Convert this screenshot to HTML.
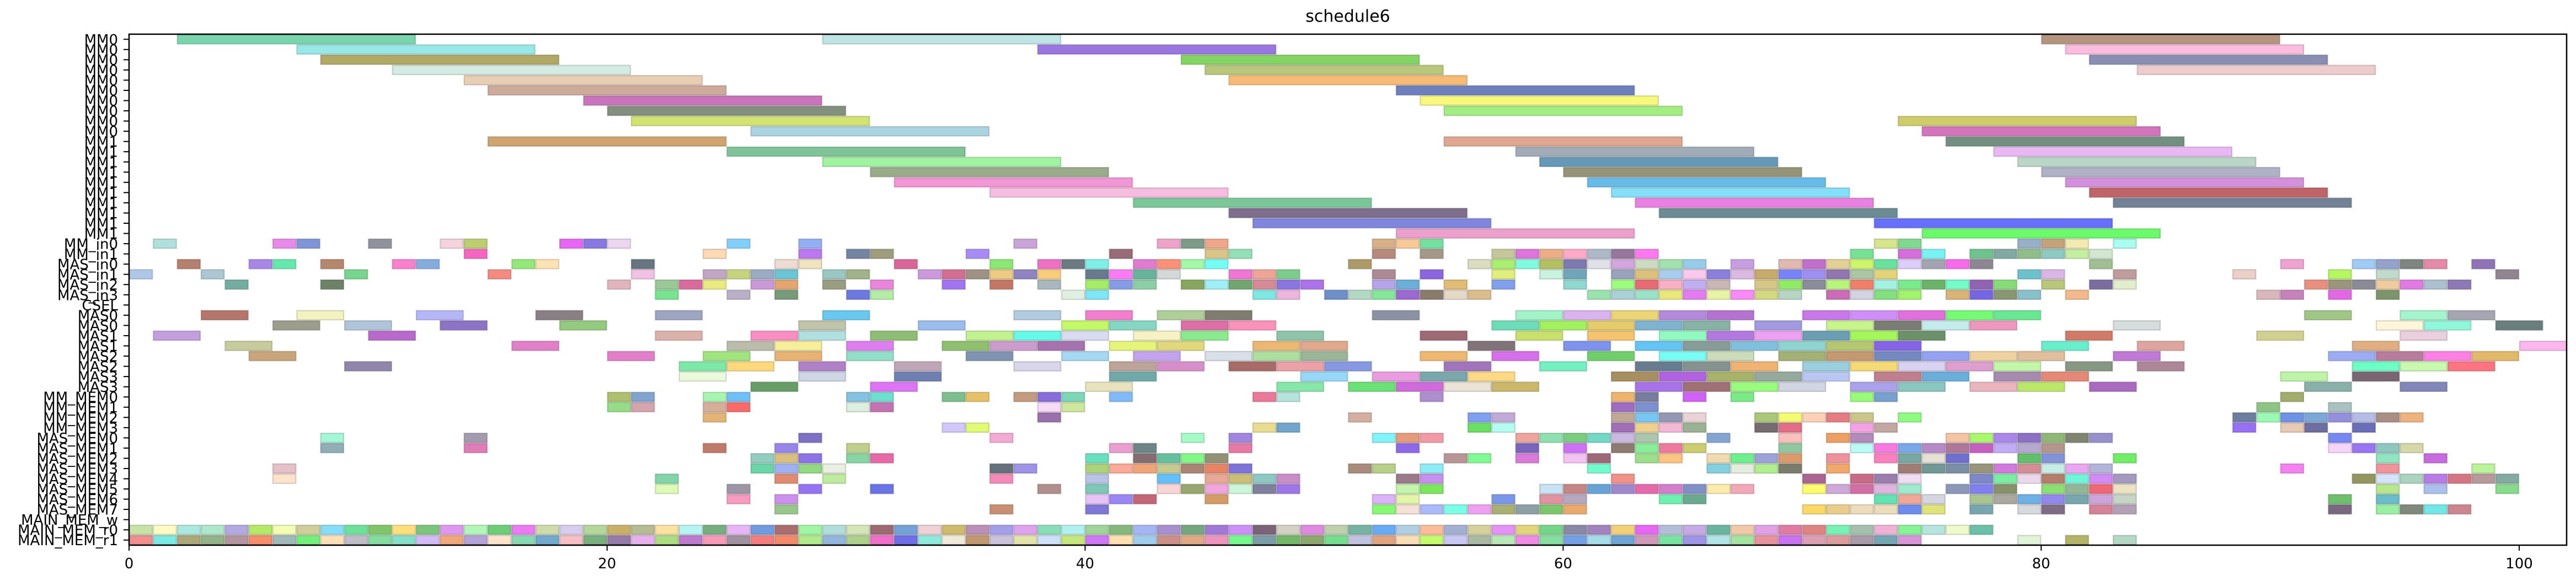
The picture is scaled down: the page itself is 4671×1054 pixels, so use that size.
<!DOCTYPE html>
<html><head><meta charset="utf-8"><style>
html,body{margin:0;padding:0;background:#fff;width:4671px;height:1054px;overflow:hidden}
svg{display:block}
text{font-family:"DejaVu Sans","Liberation Sans",sans-serif;fill:#000}
</style></head><body>
<svg id="s" width="4671" height="1054" xmlns="http://www.w3.org/2000/svg">
<rect x="0" y="0" width="4671" height="1054" fill="#fff"/>
<g id="bars"></g>
<rect x="234" y="62" width="4420" height="927" fill="none" stroke="#000" stroke-width="2.5"/>
<text x="2444" y="30" font-size="30" text-anchor="middle" dominant-baseline="central">schedule6</text>
<g id="yl" font-size="26" text-anchor="end"></g>
<g id="xl" font-size="26" text-anchor="middle"></g>
</svg>
<script>
var X0=234,UX=43.34,Y0=62,RH=18.54;
var NS="http://www.w3.org/2000/svg";
var g=document.getElementById('bars');
function dark(h){var n=parseInt(h,16),r=(n>>16)&255,gg=(n>>8)&255,b=n&255;r=Math.round(r*.75);gg=Math.round(gg*.75);b=Math.round(b*.75);return 'rgb('+r+','+gg+','+b+')';}
function bar(r,s,l,c){var e=document.createElementNS(NS,'rect');e.setAttribute('x',(X0+UX*s+1).toFixed(1));e.setAttribute('y',(Y0+RH*r+1).toFixed(1));e.setAttribute('width',(UX*l-2).toFixed(1));e.setAttribute('height',(RH-2).toFixed(1));e.setAttribute('fill','#'+c);e.setAttribute('stroke',dark(c));e.setAttribute('stroke-opacity','0.55');e.setAttribute('stroke-width','2.2');g.appendChild(e);}
function L(r,len,str){str.trim().split(/\s+/).forEach(function(t){var p=t.split(':');bar(r,+p[0],len,p[1]);});}
function SEQ(r,start,str){str.trim().split(/\s+/).forEach(function(c,i){bar(r,start+i,1,c);});}
var big=[
[0,"2:79d6ac 29:bfe4e4 80:b59580"],[1,"7:98e8e8 38:9976e0 81:fbbce0"],[2,"8:b1a866 44:84d464 82:8a8eb2"],
[3,"11:d3ebe3 45:b8c77a 84:eecbcc"],[4,"14:e8cfb3 46:f7bb75"],[5,"15:cdaa9a 53:6e7fbd"],[6,"19:c974bd 54:f8f87c"],
[7,"20:84907e 55:a2ee82"],[8,"21:d2e372 74:cfcc6a"],[9,"26:aad4e2 75:d374bd"],[10,"15:d0a46e 55:e0a690 76:738f82"],
[11,"25:7fc399 58:a2acb8 78:e9b8f4"],[12,"29:a0f3a0 59:6699b8 79:bad6c6"],[13,"31:9aab8c 60:969478 80:afb1c6"],
[14,"32:f396d6 61:66bbe9 81:d490dc"],[15,"36:f6bde0 62:84dffa 82:c06468"],[16,"42:7ac79a 63:ea80e2 83:738296"],
[17,"46:7f6e8c 64:6a8c92"],[18,"47:8085de 73:6670fa"],[19,"53:eda0cc 75:6afa6a"]];
big.forEach(function(a){L(a[0],10,a[1]);});
var u=[
[20,"1:b0e0dc 6:e88ae8 7:7f95d6 10:8f939b 13:f4d3df 14:bccf6e 18:e766f5 19:8878e0 20:ebd7f0 25:82cffa 28:92aef5 37:caa3d9 43:eda3ca 44:7d9c88 45:f0a789 52:d8b088 53:f7c997 54:73e0a0 73:d6e58c 74:7fd98f 79:97b0c8 80:c4a27c 81:f5e9b2 83:a8fcf0"],
[21,"14:f665c0 24:fdd9b5 28:bb78f0 30:7584a2 31:9e9e7e 35:a88cf5 41:976b78 45:dac487 46:93dfb7 52:b88a7d 54:a69888 57:c5c79a 58:de74dc 59:ecae87 60:fdaac9 61:adb9c9 62:95789b 63:ff78f0 72:78e294 74:d66fdb 75:78f3f2 77:6ec38e 78:81a9a2 79:8fbe8a 80:8dcac2 81:c6eea0 82:d2e6d0"],
[22,"2:b5806d 5:a987e8 6:64e8ac 8:b5876d 11:f980cf 12:84acdf 16:93e878 17:fde3b3 21:66757f 27:eedcd2 28:efe3c0 32:da6699 36:8ae873 38:ef70c5 39:6c7a82 40:7ff0e8 42:e07bd0 43:fd9077 44:a3f9a6 45:74fff5 51:ad9a68 56:dcdcc0 57:a9f06e 58:80fbe0 59:b4c061 60:7d7ab0 61:e0e0e8 62:d4a5df 63:ccdcc3 64:a3e1ae 65:95cde9 67:c89ee0 69:e2b9b0 70:c16fca 71:e2d096 72:ccf56a 73:69e2a0 74:dccdf9 75:a2a4b0 76:f76bea 77:8f8693 82:a0c094 90:eea3d2 93:a0cbf5 94:95a2cc 95:7f8680 96:e68aaa 98:8f73b6"],
[23,"0:b0c8e8 3:adc6d3 9:77d68e 15:f48a80 21:f2c2e5 24:c1a6c5 25:c7d47e 26:9aabc4 27:6ac5d5 29:9bc7c2 30:a0b38a 33:cc99dc 34:d36e91 35:9d9284 36:edcb81 37:8f83c0 38:f7cd79 40:677a8e 41:ff7af5 42:67b39b 43:d4d8d8 46:ef76d2 47:efa596 48:7ccd8d 52:ac8995 54:8c65e0 57:e0ef7c 59:c9f3e0 60:6fa6ba 62:99a3bc 63:dcc17a 64:a9cdee 65:fcc8ee 66:8a7fdc 67:dbb9e0 68:c7ab6c 69:7a82fa 70:9e90f2 71:9276b0 72:abc5a5 73:e3d47a 79:6dc1cd 80:dab6e6 83:c09d9c 88:ebcfc8 92:b5f761 94:c0dacc 99:908590"],
[24,"4:73ada0 8:6d8268 20:e2b4be 22:9ac997 23:d96b9c 24:e9ea80 26:c99ad7 27:e4a56f 29:999d81 31:e986db 34:a374f2 36:c57766 38:a9b8bc 40:a3ee65 41:859ce6 42:8dcea7 44:87a65f 45:a1eff6 46:73a66e 47:d58a96 48:8a76e0 49:ab72e9 52:b5a4e9 53:6baed8 55:e2bc74 57:829fee 60:90d8cf 62:9cfc7e 63:e86b73 64:f9afc4 65:c2aff1 66:cbb6b6 68:d8c688 69:91eb67 70:8a8d98 71:b8f57c 72:f07f69 73:a4f2e2 74:7aeb8c 75:6cb36a 76:73fbc8 77:9064b2 78:88dc78 80:bac67a 82:7b6e9e 83:e2edce 91:e98f80 92:9c957e 93:8a8b96 94:efcc9e 95:e17ae3 96:adc0d0 97:8e78b6"],
[25,"22:77e48f 25:b9b0c7 27:779a7b 30:6d79e2 31:b4eba7 39:dff0e3 40:7fe6f6 47:7de8e3 48:edb4dc 50:6e8fc9 51:b3d9c5 52:84e79a 53:9c68d2 54:8a7b6c 55:e5dac7 56:dbbc8d 61:9ae3b1 62:abd0d5 63:9ae2c7 64:e8e87a 65:e57bf3 66:e8f3a6 67:f98af7 68:d3d980 69:b7d5c2 71:cc6bb8 72:d2d4e2 73:83e07f 74:a0f36b 76:dbb377 77:7766e4 78:8a9672 79:88c0cb 81:f3b98c 89:dab7bd 90:c882bb 92:e468e6 94:7e956c"],
[35,"20:afc16c 21:82a5d0 24:a6f5b1 25:6ec0f7 30:84c1e2 31:6cdfcf 34:7dbf8e 35:e6c168 37:c29a7e 38:876ddc 39:7dd6b8 41:82baf9 47:eb7898 48:b5e4dc 54:ab8fce 62:f0b36c 63:787d9d 65:d062f8 67:7aea86 72:99fb7a 73:78a1cf 90:a2ad6c"],
[36,"20:95de87 21:d4a5ae 24:d8ae9a 25:f96b6b 30:ddefdf 31:c473b2 38:f7daf5 39:cfe79c 62:a06cc0 63:7d90cf 89:8ec584 92:a9c2bf"],
[37,"24:e4b477 38:9970ab 51:d4aea0 56:7ea0ef 57:c1a9d8 62:c0a896 63:76c7f2 64:9498b2 65:e9d3d6 68:adc77a 69:f4fa72 70:fdd0b8 71:e57c83 72:cbc58a 74:90fb82 88:6e7ea2 89:9afab4 90:6d92e6 91:7ba8d6 92:9590dc 93:b5bde6 94:a88e87 95:eeb27c"],
[38,"34:d2c8fb 35:e2fb74 47:e8dc91 48:71a5cb 56:6ae062 57:b6fcf2 62:a06fb6 63:efd090 64:f4b7d4 65:9ab293 68:746c6e 69:e36d87 72:f3a3e3 73:c2a8a3 88:9770f6 90:e8cab4 91:6f6ea0 93:6a6eb8"],
[39,"8:a3f7d6 14:a39bb0 28:7e70c5 36:f3abd4 44:a4fbc6 46:9f87df 52:82f3f8 53:e49c7a 54:f39aa8 58:eda59d 59:8fe0b0 60:7acc7f 61:73d8c4 62:cbb9e2 63:adc5ab 66:84a5d2 69:fbc0bc 71:eea064 72:b18bbb 76:f4c4a4 77:a9f76c 78:ab87eb 79:8b70c3 80:8fb876 81:808470 82:9690cc 92:7788f4"],
[40,"8:90aeb6 14:e07db8 24:c07a6a 27:9985ea 30:c1cf8c 41:e99fcf 42:6d8586 46:e679a6 53:8d68e8 58:7966bc 60:cc72f6 62:8f7a72 63:88ee98 64:f07a9e 65:cccc70 69:91c79e 72:bafbf5 73:f77ae0 74:7aa7ea 75:b68ac4 76:b07898 77:c660c0 78:c0acf8 79:b6a9d0 80:b4978a 92:f7d5f9 93:9875f2 94:8fc6be 95:d6d8a8"],
[41,"26:91cdc0 27:d8c081 28:8c73e8 30:86d5a3 31:e86aa8 40:68e2be 42:856e73 43:65c19d 44:80f985 45:929376 55:b89695 56:7ffb92 58:d97ad8 60:f5c3f3 61:9d6a7a 63:9ae08a 64:fdc380 66:f0dab0 67:6ff08e 68:9da2d8 69:dc9a6b 71:f0929c 73:fb80c0 74:78a8a2 75:e6e0d4 76:7070d0 79:62c06c 80:8393d8 83:70ee68 94:90e6c2 96:c86ae0"],
[42,"6:e6c0c8 26:6ad5a6 27:a0b0f5 28:93d883 29:e9efe3 36:66707a 37:9e93e6 40:acd27a 41:faaa96 42:f0a477 43:c6ca8e 44:a98673 45:e98365 46:7d73d8 51:a98c7a 52:b6d08a 54:8eecf6 61:72fbcc 66:85d0de 67:e6ecdd 68:b0ee90 69:7a7c6c 71:f2a86a 74:a07c74 75:6f9896 76:7a8ea6 77:97957a 78:cf7adc 79:d48f96 80:c6eee6 81:eaa6f0 82:b4b3dc 90:f580f0 94:f0949c 98:bcf49a"],
[43,"6:fde3cc 22:82d5a8 27:e08a70 29:beeb9e 36:f58ab9 40:b8c3e6 43:65c0f9 45:e9a895 46:cbbe78 47:8ec8c4 48:c98dc8 53:9b7a8a 54:c590ee 62:f2908a 70:aa6690 72:c96a88 73:9a7eae 74:f0dcf3 77:7d88c8 78:7aeea0 79:ecd8ec 80:b57d6c 81:6ff6d8 82:d48af4 83:a49ac0 93:949660 94:d6e4fb 95:acd3bd 96:b87ce6 97:d57682 98:b89a9a 99:84aaa2"],
[44,"22:defab6 25:9c96a6 28:9474f5 31:6b74e6 38:b18f8c 40:7dc8b8 43:f9d5d5 44:9aa670 45:f1a5de 46:ccf6d7 47:7f7f9e 48:9f76ea 53:c4f5ac 54:7ce65c 59:c8e2f6 60:c68686 61:67a4d5 62:a088cc 63:e46aac 64:d47fcc 65:8390c8 66:fcebaa 67:f1a8b8 70:fcfc6c 71:cea9da 72:d46fa5 73:dfb5e0 74:a0ead0 76:8c98b8 77:8080f0 78:87916a 80:8ae070 81:93b696 82:f06878 83:ece3c4 94:b8e88e 96:abc0ec 99:86dc8c"],
[45,"25:f79bc0 27:cd90ef 40:e8c3f8 41:9a86f5 42:c56676 45:d69c67 52:dcb2f9 53:e2f5a8 57:7a96ea 59:e293a3 60:b5a9c0 64:6ef0b0 65:6aaa90 73:62e3b2 74:f0a795 75:d6d6e0 77:a9c591 78:aaa8a0 79:6fb0e6 80:9187ec 81:77a6ac 82:cea4dc 83:c6d5c6 92:6fc06c 94:6abecb"],
[46,"27:98c78c 36:c88f73 40:7f78d7 52:86fa72 53:f5e0d5 54:abbafa 55:7cfde6 56:f0a0f0 57:a8b072 58:8fa0a5 59:7cc66c 60:eaaa6c 70:fcd868 71:eacd8c 72:eddcbc 73:ebdcbc 74:6e8cec 75:dfe37a 77:78a6b0 79:d6dade 80:7e6c87 82:d68298 83:b4a0b6 92:796880 94:98f0a0 95:808a7c 96:72e8e6 97:cc8690"],
[49,"79:e0f4d8 81:b4b468 83:b4d8c4"]];
u.forEach(function(a){L(a[0],1,a[1]);});
var w=[
[27,"3:b5756b 7:f2f3c1 12:b5b6f8 17:8b7f86 22:9ea5c0 29:69c8ee 37:b1cbe1 40:f27ecd 43:b0cf98 45:7f7c70 52:8b92a2 58:a3f3c8 60:dbb4ef 62:ecd577 64:b48bdc 66:b473d1 70:c878e8 72:d08ff8 74:e070dd 76:76fb76 78:68e890 91:a0c686 95:a4f5ce 97:a6a6b2"],
[28,"6:9d9d8e 9:b0c5da 13:8c73c5 18:93ca7d 28:c0c4aa 33:9bbded 39:c3f866 41:85d7c1 44:de6fa6 46:fa92bc 57:6ddcb9 59:a2f15f 61:e4cc6a 63:7fb3d0 65:87b2a5 68:a39ae2 71:c8f58b 73:7a7d73 75:c5ecec 77:ef98bf 83:d5dedd 94:fff6da 96:90f8da 99:6b7e7e"],
[29,"1:c39fe0 10:b968cc 22:dbb1aa 26:f98ec3 28:b1e0e0 31:8ebd74 35:c2f18f 37:64f9e8 39:d9dcf0 42:f6f2c5 44:8aea8d 48:8dc4aa 54:9d6a75 58:c9e06c 61:f5c46c 64:90fac1 66:b27ae0 68:eea0f3 70:6b9db3 72:a3f756 74:6c9068 81:d27a68 89:d2d08e 95:ead0df"],
[30,"4:c8cc9c 16:e17fc8 25:bcbcac 27:f7ef98 30:df7ef0 34:8fc070 36:cc9dcc 38:a673b0 41:e7f47a 43:e1d77c 47:ebb873 49:e0a88d 56:807478 60:7e93ef 63:64c5f5 65:889c98 67:80c0dc 69:8ed4d0 71:b6c772 73:8664e8 80:68f0cc 84:dea5a0 93:e0ae80 100:fdb6ee"],
[31,"5:c9a57c 20:e17fc8 24:a0e47f 27:e8b274 30:93dec8 35:7f94b0 39:a5d8f2 42:c3a3ee 45:d9dfe8 47:addfa0 49:9bb598 54:efb870 57:d570ea 61:71cf6b 64:78fcf3 66:cbdcbb 69:a3b076 71:c49870 73:7389c0 75:95a2f2 77:f0d2a0 79:e1bf9c 83:c07ad6 92:9cabf4 94:b87c9c 96:fd80e4 98:e2b86a"],
[32,"9:9085ab 23:7beaa6 25:fdd97c 28:b081c6 32:c0a7b8 37:d9d5ea 41:bca49a 43:d78fcc 46:a96b67 48:eba1a7 50:8799e2 55:a175ba 59:74f1c0 63:677d8f 65:86928e 67:f0b371 70:9acfe0 72:f6da74 74:d9d3f1 76:dd9fcd 78:c2f6a8 81:869782 84:ad8798 93:6bffc6 95:c8f9ae 97:ff7480"],
[33,"23:eafadb 28:cfd7e6 32:6e80b1 41:70aaa8 49:96d8f7 52:ea9ce1 54:7aa7ac 56:fdd986 62:a78f5f 64:b062e0 66:a8b36a 68:95a99d 70:bac6f2 73:bf7f8f 75:6aaedb 78:a78ab0 80:e68876 90:bdf5a8 93:7a6670"],
[34,"26:679d66 31:de75f5 40:e8e3bd 48:86e7a9 51:6ae275 53:d06bdc 55:ebe3d5 57:cbb86a 63:a872e9 65:a07077 67:9afc7e 69:d2d5e3 72:aba2ec 74:89c7c0 77:eab5bf 79:bce86a 82:a96ac0 91:8ab0aa 95:8286b8"]];
w.forEach(function(a){L(a[0],2,a[1]);});
SEQ(48,0,"c7e4a6 fff9c4 a9e9df aee7cc b3a9e2 b5ea68 f3fcb2 d0cf9c 85ddf8 6de19c 80c56a fde07a 7cc57c df97ef b1f7b7 6ccf78 ec7af3 cfdba9 d7cdef b4d89c c9b068 b5bb93 fce2a0 b7f4f4 78ad80 e8b6f7 6f9be0 aa6d70 a0f7a3 b2deda d4e6b7 9e6a72 74a2d7 efd1d6 cfbb6c bc8fb5 a59ee8 dfa3ed 89deb8 b0f1ef 9fd49a 86b87e a7b5f5 a890cf 76a67d a278d7 cc90f7 7b6478 d2d1c6 dd8ae0 bfd0ac 76b3a3 67abf7 b1cfe3 fdbb98 a4b0d2 d5d09c e592f7 e0d57a 74d686 8a89a5 a283c0 f3d177 e668f2 b4bed8 c5aae3 69b5a0 f1c9a6 e0a2e4 e07ca4 df8383 77f1b4 a6c0ae efb2d6 86f396 b5e5dc eefacc 6cc0a8");
SEQ(49,0,"f08f8d 7de9e3 ada87a 95b28b b3959f f68e6c a2b9bc 72f07a fde0b8 bdbcc8 84dca0 85dfc9 d3baf7 f0a87a b4a3d9 fde2cc 88d8b3 72a9cd f5bfc3 78b07e 977aa8 e7b1ee acdd80 bd7ace f79ab9 a0929f f47e7c f38a6c b1ea8a 93b6dc afd08d f06fc9 6e6ee7 8feadb f0eadb c2986e cbc3dc e3e3ab cde0f8 c6e87a d077f6 fde0ad a0cdee cc9087 e0a884 ee95bd 76f88e 7b9ea6 74b768 8da86f 74dd8e c1c2de e0a480 f8deb4 c4fb6c c9c8f5 a9b9a4 b8e8b6 f08be4 86dea0 76a0e6 a5dce8 6ea5d4 cf99ba 78e4a2 9f95e6 b0e4e6 a4e3a0 e8929e c873ef dba0b4 dc9c9c a99ca8 75a7b3 d896d8");
var labels=[];for(var i=0;i<10;i++)labels.push('MM0');for(i=0;i<10;i++)labels.push('MM1');
labels=labels.concat(['MM_in0','MM_in1','MAS_in0','MAS_in1','MAS_in2','MAS_in3','CSEL','MAS0','MAS0','MAS1','MAS1','MAS2','MAS2','MAS3','MAS3','MM_MEM0','MM_MEM1','MM_MEM2','MM_MEM3','MAS_MEM0','MAS_MEM1','MAS_MEM2','MAS_MEM3','MAS_MEM4','MAS_MEM5','MAS_MEM6','MAS_MEM7','MAIN_MEM_w','MAIN_MEM_r0','MAIN_MEM_r1']);
var yl=document.getElementById('yl'),s=document.getElementById('s');
labels.forEach(function(t,i){var y=Y0+RH*(i+0.5);var ln=document.createElementNS(NS,'line');ln.setAttribute('x1',224);ln.setAttribute('x2',234);ln.setAttribute('y1',y);ln.setAttribute('y2',y);ln.setAttribute('stroke','#000');ln.setAttribute('stroke-width',2);s.appendChild(ln);
var tx=document.createElementNS(NS,'text');tx.setAttribute('x',214);tx.setAttribute('y',y+9.5);tx.textContent=t;yl.appendChild(tx);});
var xl=document.getElementById('xl');
[0,20,40,60,80,100].forEach(function(v){var x=X0+UX*v;var ln=document.createElementNS(NS,'line');ln.setAttribute('x1',x);ln.setAttribute('x2',x);ln.setAttribute('y1',989);ln.setAttribute('y2',999);ln.setAttribute('stroke','#000');ln.setAttribute('stroke-width',2);s.appendChild(ln);
var tx=document.createElementNS(NS,'text');tx.setAttribute('x',x);tx.setAttribute('y',1031);tx.textContent=v;xl.appendChild(tx);});
</script>
</body></html>
